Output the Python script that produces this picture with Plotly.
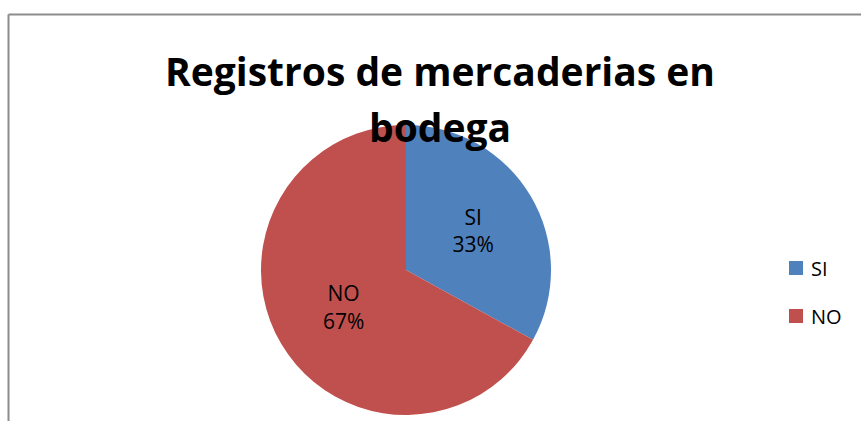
import plotly.graph_objects as go

labels = ['SI', 'NO']
values = [33, 67]
colors = ['#4F81BD', '#C0504D']

W, H = 861, 421

fig = go.Figure()
fig.add_trace(go.Pie(
    labels=labels,
    values=values,
    marker=dict(colors=colors, line=dict(width=0)),
    sort=False,
    direction='clockwise',
    rotation=0,
    texttemplate='%{label}<br>%{percent:.0%}',
    textposition='inside',
    insidetextorientation='horizontal',
    textfont=dict(family='Open Sans', size=21, color='black'),
    domain=dict(x=[261 / W, 551 / W], y=[6 / H, 296 / H]),
    hoverinfo='label+percent',
    showlegend=False,
))

# title as two annotation lines
title_font = dict(family='Open Sans', size=39, color='black')
fig.add_annotation(text='<b>Registros de mercaderias en</b>', x=440 / W, y=1 - 70 / H,
                   xref='paper', yref='paper', showarrow=False, font=title_font,
                   xanchor='center', yanchor='middle')
fig.add_annotation(text='<b>bodega</b>', x=440 / W, y=1 - 126 / H,
                   xref='paper', yref='paper', showarrow=False, font=title_font,
                   xanchor='center', yanchor='middle')

# legend drawn by hand so the item spacing matches
for i, (lab, col) in enumerate(zip(labels, colors)):
    yc = 268 + i * 48
    fig.add_shape(type='rect', xref='paper', yref='paper',
                  x0=789 / W, x1=803 / W, y0=1 - (yc - 7) / H, y1=1 - (yc + 7) / H,
                  fillcolor=col, line=dict(width=0))
    fig.add_annotation(text=lab, x=809 / W, y=1 - yc / H, xref='paper', yref='paper',
                       showarrow=False, xanchor='left', yanchor='middle',
                       font=dict(family='Open Sans', size=20, color='black'))

# chart-area border (top and left only visible)
fig.add_shape(type='line', xref='paper', yref='paper', x0=8.5 / W, x1=1, y0=1 - 14.5 / H, y1=1 - 14.5 / H,
              line=dict(color='#8C8C8C', width=2))
fig.add_shape(type='line', xref='paper', yref='paper', x0=8.5 / W, x1=8.5 / W, y0=0, y1=1 - 14.5 / H,
              line=dict(color='#8C8C8C', width=2))

fig.update_layout(
    width=W, height=H,
    margin=dict(l=0, r=0, t=0, b=0),
    paper_bgcolor='white',
    plot_bgcolor='white',
)

fig.write_html("out.html", config={'displayModeBar': False},
               post_script="document.body.style.margin='0';")
